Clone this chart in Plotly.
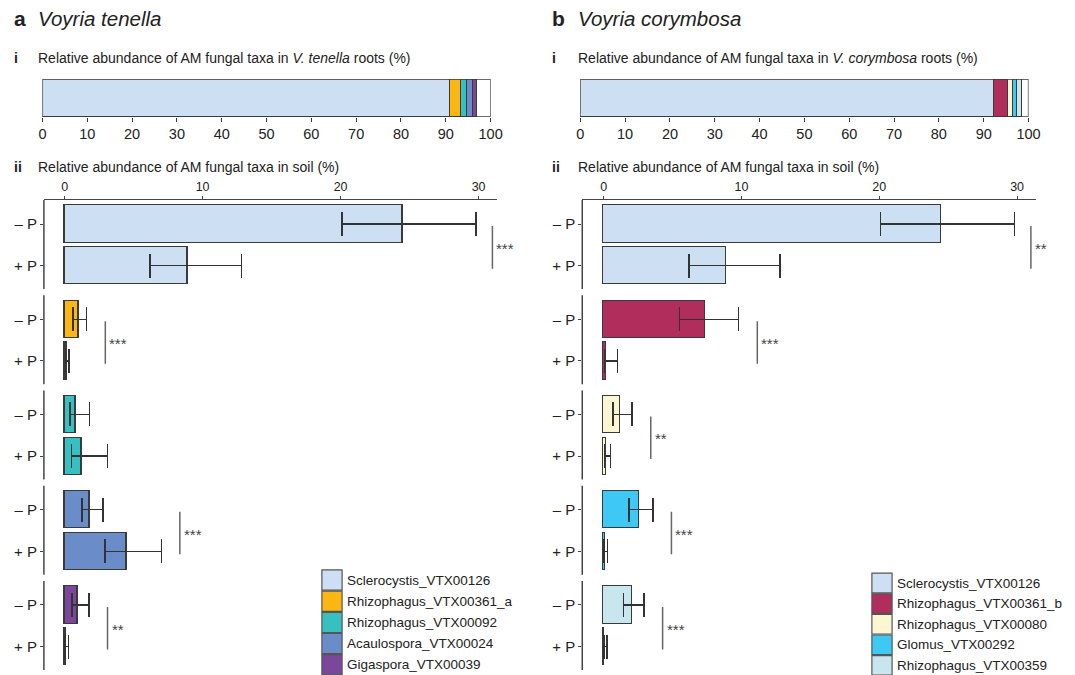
import plotly.graph_objects as go

W, H = 1075, 675
FONT = "Liberation Sans, Arial, Helvetica, sans-serif"
INK = "#222222"
EDGE = "#3a3a3a"

# ---- Voyria tenella -------------------------------------------------------
taxa_a = ["Sclerocystis_VTX00126", "Rhizophagus_VTX00361_a", "Rhizophagus_VTX00092",
          "Acaulospora_VTX00024", "Gigaspora_VTX00039"]
colors_a = ["#cddff2", "#fbb614", "#38bfc1", "#6a8cc8", "#7a479c"]
roots_a = [91.1, 2.3, 1.5, 1.3, 0.9]
soil_minusP_a = [24.5, 1.0, 0.81, 1.86, 0.98]
soil_minusP_lo_a = [20.1, 0.62, 0.40, 1.26, 0.55]
soil_minusP_hi_a = [29.8, 1.60, 1.80, 2.79, 1.76]
soil_plusP_a = [8.9, 0.17, 1.24, 4.52, 0.10]
soil_plusP_lo_a = [6.2, 0.05, 0.50, 2.93, 0.03]
soil_plusP_hi_a = [12.8, 0.31, 3.10, 7.00, 0.29]
sig_a = ["***", "***", "", "***", "**"]

# ---- Voyria corymbosa -----------------------------------------------------
taxa_b = ["Sclerocystis_VTX00126", "Rhizophagus_VTX00361_b", "Rhizophagus_VTX00080",
          "Glomus_VTX00292", "Rhizophagus_VTX00359"]
colors_b = ["#cddff2", "#b02d5c", "#fbf7d3", "#3ec8f4", "#c8e6ed"]
roots_b = [92.3, 3.2, 1.0, 1.0, 1.1]
soil_minusP_b = [24.5, 7.4, 1.21, 2.55, 2.07]
soil_minusP_lo_b = [20.1, 5.5, 0.67, 1.83, 1.45]
soil_minusP_hi_b = [29.8, 9.8, 2.07, 3.57, 2.93]
soil_plusP_b = [8.9, 0.20, 0.19, 0.10, 0.08]
soil_plusP_lo_b = [6.2, 0.05, 0.08, 0.03, 0.03]
soil_plusP_hi_b = [12.8, 1.00, 0.50, 0.29, 0.25]
sig_b = ["**", "***", "**", "***", "***"]

treatments = ["– P", "+ P"]
root_ticks = list(range(0, 101, 10))
soil_ticks = [0, 10, 20, 30]


def fx(p):
    return p / W


def fy(p):
    return 1 - p / H


GAP = 2.284      # distance between taxon groups (in bar slots)
BAR_W = 0.89
Y_TOP, Y_BOT = -0.576, 4 * GAP + 1.56

panels = [
    dict(letter="a", species="Voyria tenella", short="V. tenella", x0=8, xt=32,
         top_dom=(39, 494), soil_dom=(40.5, 500), soil_rng=(-1.5, 31.3),
         legend_x=322.7, legend_y=580, legend_dy=21.2,
         taxa=taxa_a, colors=colors_a, roots=roots_a,
         m=soil_minusP_a, mlo=soil_minusP_lo_a, mhi=soil_minusP_hi_a,
         p=soil_plusP_a, plo=soil_plusP_lo_a, phi=soil_plusP_hi_a, sig=sig_a),
    dict(letter="b", species="Voyria corymbosa", short="V. corymbosa", x0=554, xt=581,
         top_dom=(585, 1040), soil_dom=(587, 1048), soil_rng=(-1.55, 31.4),
         legend_x=881, legend_y=583, legend_dy=20.6,
         taxa=taxa_b, colors=colors_b, roots=roots_b,
         m=soil_minusP_b, mlo=soil_minusP_lo_b, mhi=soil_minusP_hi_b,
         p=soil_plusP_b, plo=soil_plusP_lo_b, phi=soil_plusP_hi_b, sig=sig_b),
]

fig = go.Figure()
shapes, annotations = [], []
layout_axes = {}

for k, P in enumerate(panels):
    xr = "x" if k == 0 else "x2"
    yr = "y" if k == 0 else "y2"
    xs = "x3" if k == 0 else "x4"
    ys = "y3" if k == 0 else "y4"

    # stacked composition bar of the roots
    for name, col, val in zip(P["taxa"], P["colors"], P["roots"]):
        fig.add_trace(go.Bar(
            x=[val], y=[0], orientation="h", width=1, name=name,
            marker=dict(color=col, line=dict(color=EDGE, width=1.2)),
            xaxis=xr, yaxis=yr, showlegend=False, hoverinfo="name+x"))
    shapes.append(dict(type="rect", xref=xr, yref=yr, x0=0, x1=100, y0=-0.5, y1=0.5,
                       line=dict(color=EDGE, width=1.3), layer="above"))

    # soil abundance, -P and +P per taxon
    tickvals, ticktext = [], []
    for g, (name, col) in enumerate(zip(P["taxa"], P["colors"])):
        ypos = [g * GAP, g * GAP + 1]
        mean = [P["m"][g], P["p"][g]]
        lo = [P["mlo"][g], P["plo"][g]]
        hi = [P["mhi"][g], P["phi"][g]]
        fig.add_trace(go.Bar(
            x=mean, y=ypos, orientation="h", width=BAR_W, name=name,
            marker=dict(color=col, line=dict(color=EDGE, width=1.4)),
            error_x=dict(type="data", symmetric=False,
                         array=[h - v for h, v in zip(hi, mean)],
                         arrayminus=[v - l for v, l in zip(mean, lo)],
                         color="#333333", thickness=1.4, width=12),
            xaxis=xs, yaxis=ys, showlegend=False))
        tickvals += ypos
        ticktext += treatments

        # broken left axis segment for this group
        shapes.append(dict(type="line", xref=f"{xs} domain", yref=ys, x0=0, x1=0,
                           y0=g * GAP + Y_TOP, y1=g * GAP + 1.56,
                           line=dict(color="#444444", width=1.5)))

        # significance bracket
        if P["sig"][g]:
            xl = min(max(hi) + 1.35, 31.0)
            shapes.append(dict(type="line", xref=xs, yref=ys, x0=xl, x1=xl,
                               y0=g * GAP + 0.05, y1=g * GAP + 1.07,
                               line=dict(color="#666666", width=1.5)))
            annotations.append(dict(xref=xs, yref=ys, x=xl, y=g * GAP + 0.56,
                                    text=P["sig"][g], showarrow=False, xanchor="left",
                                    xshift=2, yshift=-1, font=dict(size=15, color="#444444")))

        # legend swatch and label
        ly = P["legend_y"] + g * P["legend_dy"]
        shapes.append(dict(type="rect", xref="paper", yref="paper",
                           x0=fx(P["legend_x"]), x1=fx(P["legend_x"] + 20.5),
                           y0=fy(ly - P["legend_dy"] / 2 + 0.5), y1=fy(ly + P["legend_dy"] / 2 - 0.5),
                           fillcolor=col, line=dict(color="#555555", width=1.2)))
        annotations.append(dict(xref="paper", yref="paper", x=fx(P["legend_x"] + 23.5), y=fy(ly),
                                text=name, showarrow=False, xanchor="left", yanchor="middle",
                                font=dict(size=13.5, color=INK)))

    # headings
    annotations += [
        dict(xref="paper", yref="paper", x=fx(P["x0"]), y=fy(19), text=f"<b>{P['letter']}</b>",
             showarrow=False, xanchor="left", yanchor="middle", font=dict(size=21, color=INK)),
        dict(xref="paper", yref="paper", x=fx(P["xt"]), y=fy(19), text=f"<i>{P['species']}</i>",
             showarrow=False, xanchor="left", yanchor="middle", font=dict(size=20.5, color=INK)),
        dict(xref="paper", yref="paper", x=fx(P["x0"]), y=fy(58), text="<b>i</b>",
             showarrow=False, xanchor="left", yanchor="middle", font=dict(size=14, color=INK)),
        dict(xref="paper", yref="paper", x=fx(P["xt"]), y=fy(58),
             text=f"Relative abundance of AM fungal taxa in <i>{P['short']}</i> roots (%)",
             showarrow=False, xanchor="left", yanchor="middle", font=dict(size=14, color=INK)),
        dict(xref="paper", yref="paper", x=fx(P["x0"]), y=fy(167), text="<b>ii</b>",
             showarrow=False, xanchor="left", yanchor="middle", font=dict(size=14, color=INK)),
        dict(xref="paper", yref="paper", x=fx(P["xt"]), y=fy(167),
             text="Relative abundance of AM fungal taxa in soil (%)",
             showarrow=False, xanchor="left", yanchor="middle", font=dict(size=14, color=INK)),
    ]

    sfx_r = "" if k == 0 else "2"
    sfx_s = "3" if k == 0 else "4"
    layout_axes[f"xaxis{sfx_r}"] = dict(
        domain=[fx(P["top_dom"][0]), fx(P["top_dom"][1])], range=[0, 100], anchor=yr,
        tickvals=root_ticks, ticks="outside", ticklen=4, tickcolor=EDGE, tickwidth=1,
        showline=False, showgrid=False, zeroline=False, fixedrange=True,
        tickfont=dict(size=14.5, color=INK))
    layout_axes[f"yaxis{sfx_r}"] = dict(
        domain=[fy(117), fy(79)], range=[-0.5, 0.5], anchor=xr, visible=False, fixedrange=True)
    layout_axes[f"xaxis{sfx_s}"] = dict(
        domain=[fx(P["soil_dom"][0]), fx(P["soil_dom"][1])], range=list(P["soil_rng"]),
        anchor=ys, side="top", tickvals=soil_ticks, ticks="outside", ticklen=3,
        tickcolor="#444444", showline=True, linecolor="#444444", linewidth=1.3,
        showgrid=False, zeroline=False, tickfont=dict(size=12.5, color=INK))
    layout_axes[f"yaxis{sfx_s}"] = dict(
        domain=[fy(670), fy(200)], range=[Y_BOT, Y_TOP], anchor=xs,
        tickvals=tickvals, ticktext=ticktext, ticks="outside", ticklen=3,
        tickcolor="#444444", showline=False, showgrid=False, zeroline=False,
        tickfont=dict(size=15, color=INK))

fig.update_layout(
    width=W, height=H, margin=dict(l=0, r=0, t=0, b=0),
    paper_bgcolor="white", plot_bgcolor="white",
    font=dict(family=FONT, color=INK),
    barmode="stack", bargap=0, showlegend=False,
    shapes=shapes, annotations=annotations,
    **layout_axes)

fig.write_html("out.html")
